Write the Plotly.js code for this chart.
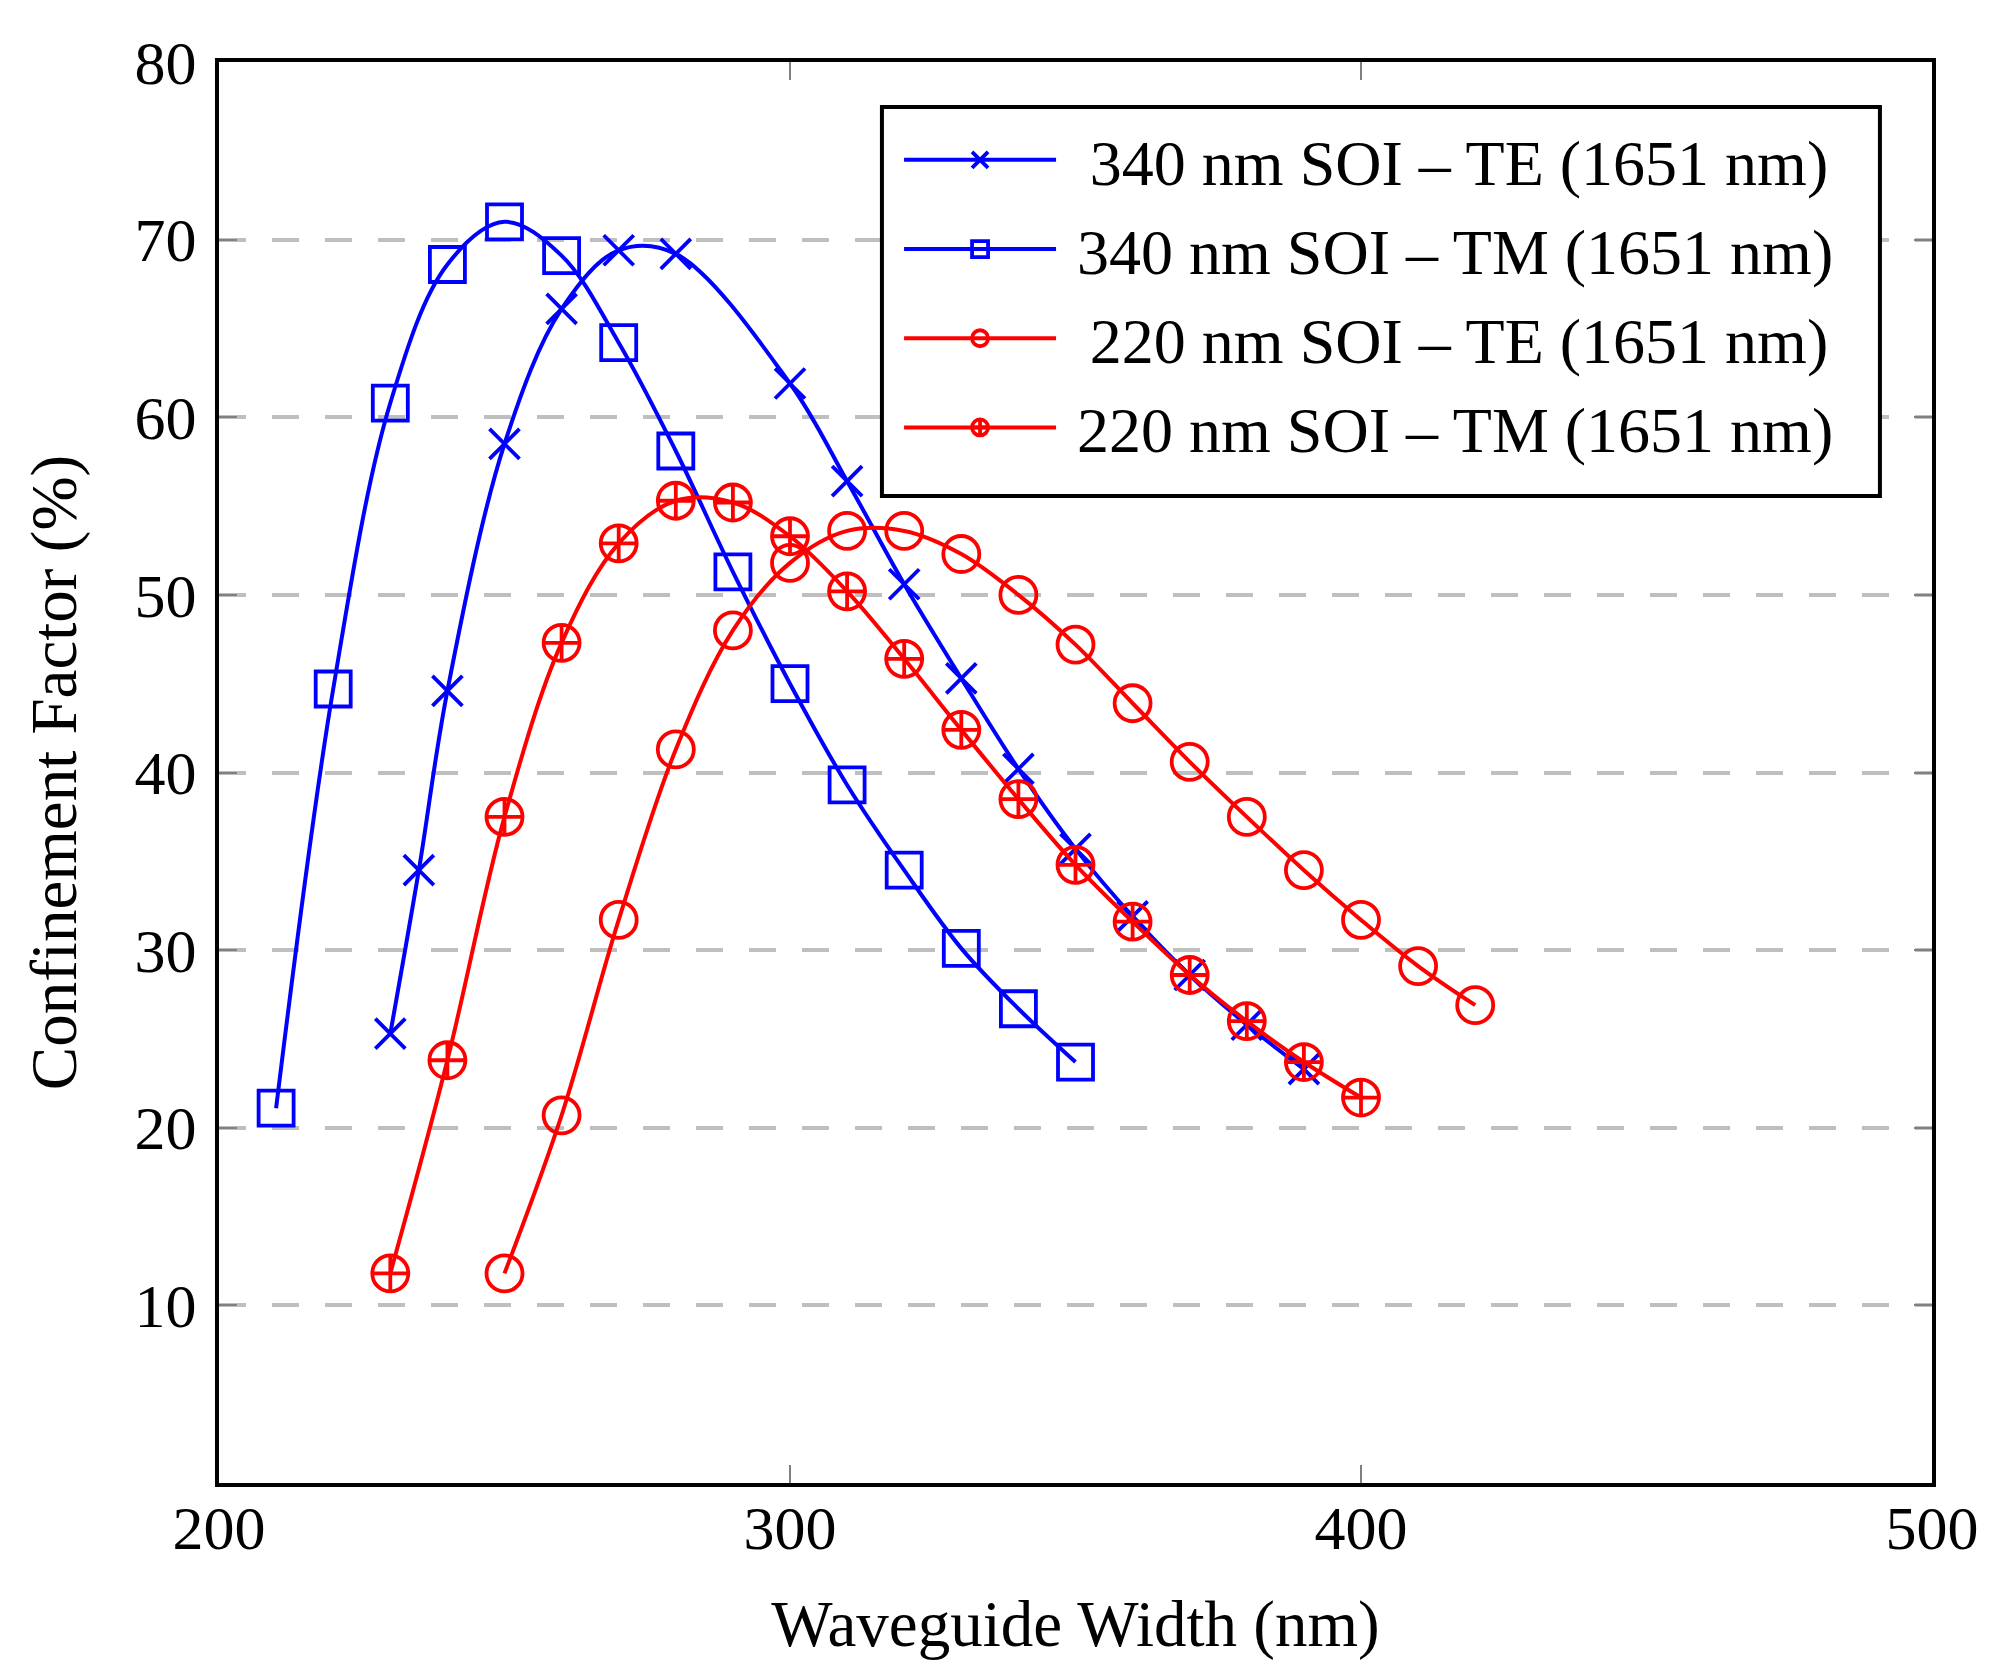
<!DOCTYPE html>
<html>
<head>
<meta charset="utf-8">
<script src="https://cdn.plot.ly/plotly-3.0.1.min.js"></script>
<style>html,body{margin:0;padding:0;background:#fff;}#chart{width:2005px;height:1672px;}</style>
</head>
<body>
<div id="chart"></div>
<script>
// Waveguide widths (nm) and confinement factor (%)
const teThickX = [230, 235, 240, 250, 260, 270, 280, 300, 310, 320, 330, 340, 350, 360, 370, 380, 390];
const teThickY = [25.3, 34.5, 44.6, 58.5, 66.1, 69.4, 69.2, 61.9, 56.4, 50.6, 45.3, 40.2, 35.7, 31.9, 28.6, 25.8, 23.3];

const tmThickX = [210, 220, 230, 240, 250, 260, 270, 280, 290, 300, 310, 320, 330, 340, 350];
const tmThickY = [21.1, 44.7, 60.8, 68.6, 71.0, 69.1, 64.2, 58.1, 51.3, 45.0, 39.3, 34.5, 30.1, 26.7, 23.7];

const teThinX = [250, 260, 270, 280, 290, 300, 310, 320, 330, 340, 350, 360, 370, 380, 390, 400, 410, 420];
const teThinY = [11.8, 20.7, 31.7, 41.3, 48.0, 51.8, 53.6, 53.6, 52.3, 50.0, 47.2, 43.9, 40.6, 37.5, 34.5, 31.7, 29.1, 26.9];

const tmThinX = [230, 240, 250, 260, 270, 280, 290, 300, 310, 320, 330, 340, 350, 360, 370, 380, 390, 400];
const tmThinY = [11.8, 23.8, 37.5, 47.3, 52.9, 55.3, 55.2, 53.3, 50.2, 46.4, 42.4, 38.5, 34.8, 31.6, 28.6, 26.0, 23.7, 21.7];

const seriesNames = [
  "340 nm SOI – TE (1651 nm)",
  "340 nm SOI – TM (1651 nm)",
  "220 nm SOI – TE (1651 nm)",
  "220 nm SOI – TM (1651 nm)"
];
// leading padding so the legend text sits centred like the original
const namePad = ["\u00a0\u2009", "\u00a0", "\u00a0\u2009", "\u00a0"];
const xTicks = [200, 300, 400, 500];
const yTicks = [10, 20, 30, 40, 50, 60, 70, 80];

const BLUE = "#0000ff", RED = "#ff0000";
const FONT = "Liberation Serif, Times New Roman, serif";

function mk(x, y, i, color, symbol, size, g) {
  return {
    x: x, y: y, name: namePad[i] + seriesNames[i], type: "scatter", mode: "lines+markers",
    legendgroup: g,
    line: {color: color, width: 4, shape: "spline", smoothing: 1},
    marker: {symbol: symbol, size: size, color: color, line: {color: color, width: 3.8}},
    cliponaxis: false
  };
}

const data = [
  mk(teThickX, teThickY, 0, BLUE, "x-thin-open", 30, "a"),
  mk(tmThickX, tmThickY, 1, BLUE, "square-open", 35, "b"),
  mk(teThinX, teThinY, 2, RED, "circle-open", 36, "c"),
  mk(tmThinX, tmThinY, 3, RED, "circle-cross-open", 36, "d")
];

const layout = {
  width: 2005, height: 1672,
  margin: {l: 219, r: 73, t: 62, b: 189},
  paper_bgcolor: "#ffffff", plot_bgcolor: "#ffffff",
  font: {family: FONT, color: "#000", size: 62},
  showlegend: true,
  legend: {
    x: 0.397, y: 0.965, xanchor: "left", yanchor: "top",
    bgcolor: "rgba(0,0,0,0)", borderwidth: 0,
    font: {family: FONT, size: 64, color: "#000"},
    itemwidth: 152, tracegroupgap: 3, traceorder: "grouped"
  },
  shapes: [{
    type: "rect", xref: "paper", yref: "paper",
    x0: 0.387, x1: 0.9696, y0: 0.6946, y1: 0.9683,
    line: {color: "#000", width: 4}, fillcolor: "#ffffff", layer: "above"
  }],
  xaxis: {
    range: [200, 500], tickvals: xTicks, ticktext: xTicks.map(String),
    showgrid: false, zeroline: false,
    showline: true, linecolor: "#000", linewidth: 4, mirror: "ticks",
    ticks: "inside", ticklen: 18, tickwidth: 2, tickcolor: "#808080",
    ticklabelstandoff: -12,
    tickfont: {family: FONT, size: 62, color: "#000"},
    title: {text: "Waveguide Width (nm)", font: {family: FONT, size: 65, color: "#000"}, standoff: 40}
  },
  yaxis: {
    range: [0, 80], tickvals: yTicks, ticktext: yTicks.map(String),
    showgrid: true, gridcolor: "#bfbfbf", gridwidth: 4, griddash: "27px,26px",
    zeroline: false,
    showline: true, linecolor: "#000", linewidth: 4, mirror: "ticks",
    ticks: "inside", ticklen: 18, tickwidth: 2, tickcolor: "#808080",
    ticklabelstandoff: 6,
    tickfont: {family: FONT, size: 62, color: "#000"},
    title: {text: "Confinement Factor (%)", font: {family: FONT, size: 65, color: "#000"}, standoff: 38}
  }
};

Plotly.newPlot("chart", data, layout, {displayModeBar: false, staticPlot: true});
</script>
</body>
</html>
